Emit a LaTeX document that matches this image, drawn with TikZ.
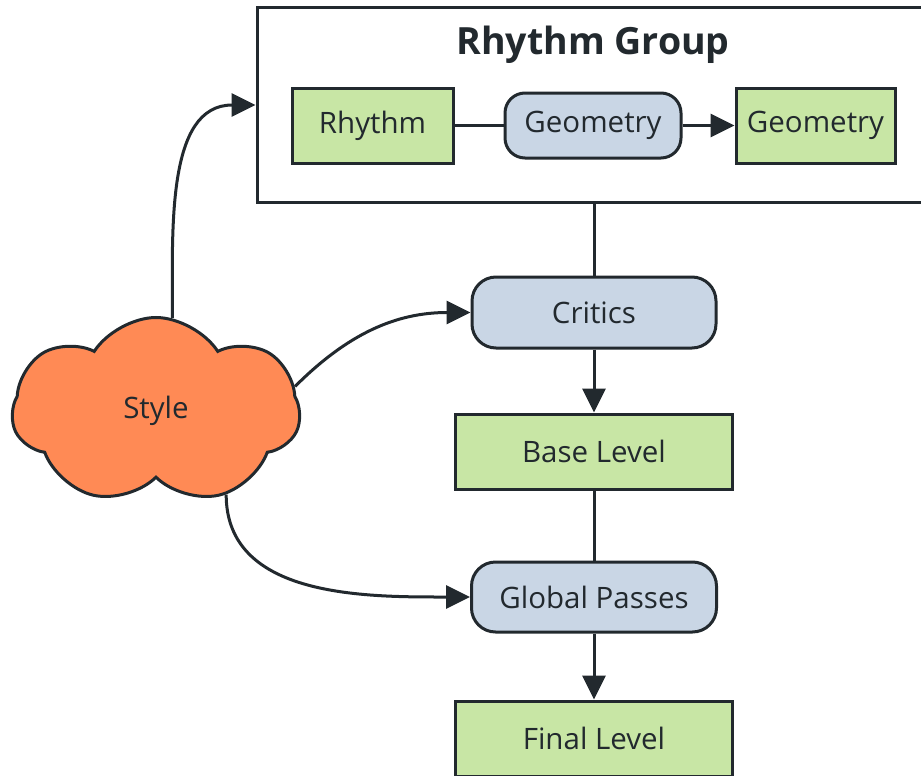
\documentclass[tikz,border=0pt]{standalone}
\usepackage{fontspec}
\setmainfont{Open Sans}
\usepackage{tikz}
\usetikzlibrary{shapes,shapes.symbols,arrows.meta,positioning}

\definecolor{inkdark}{HTML}{22292E}
\definecolor{levelgreen}{HTML}{C8E6A5}
\definecolor{passblue}{HTML}{C9D6E5}
\definecolor{styleorange}{HTML}{FF8A55}

\begin{document}
\begin{tikzpicture}[x=1pt, y=1pt, auto, font=\fontsize{29.5}{34}\selectfont, text=inkdark]
    % Define styles
    \tikzstyle{level} = [rectangle, draw=inkdark, fill=levelgreen, line width=3pt, minimum width=277pt, minimum height=75pt, inner sep=0pt]
    \tikzstyle{pass} = [rectangle, draw=inkdark, fill=passblue, line width=3pt, rounded corners=24pt, minimum width=245pt, minimum height=70pt, inner sep=0pt]
    \tikzstyle{group} = [rectangle, draw=inkdark, fill=white, line width=3pt, minimum width=668pt, minimum height=194pt]
    \tikzstyle{stylecloud} = [cloud, cloud puffs=7, cloud puff arc=115, cloud ignores aspect, draw=inkdark, fill=styleorange, line width=3pt, minimum width=288pt, minimum height=187pt, inner sep=0pt]
    \tikzstyle{link} = [draw=inkdark, line width=3pt]
    \tikzstyle{flow} = [link, -{Triangle[length=24pt, width=23pt]}]

    \useasboundingbox (0,0) rectangle (921,-776);

    % Rhythm group
    \node [group] (rgroup) at (591,-105) {};
    \node [font=\fontsize{37.5}{42}\selectfont\bfseries] (gtitle) at (593,-45) {Rhythm Group};
    \node [level, minimum width=161pt] (rhythm) at (372.5,-125.5) {Rhythm};
    \node [pass, right of=rhythm, node distance=220.5pt, minimum width=176pt, minimum height=65pt, rounded corners=20pt] (geoa) {Geometry};
    \node [level, right of=geoa, node distance=222.5pt, minimum width=159pt] (geob) {Geometry};

    % Main column
    \node [pass, minimum width=244pt, minimum height=71pt] (critics) at (594,-312.5) {Critics};
    \node [level, below of=critics, node distance=139pt] (base) {Base Level};
    \node [pass, below of=base, node distance=145.5pt] (global) {Global Passes};
    \node [level, below of=global, node distance=141.5pt] (final) {Final Level};

    % Style cloud
    \node [stylecloud] (style) at (156,-411) {Style};

    % Arrows
    \draw [link] (rhythm) -- (geoa);
    \draw [flow] (geoa) -- (geob);
    \draw [link] (critics.north |- rgroup.south) -- (critics.north);
    \draw [flow] (critics) -- (base);
    \draw [link] (base) -- (global);
    \draw [flow] (global) -- (final);
    \draw [flow] (style.80) to[out=90, in=180] (rgroup.west);
    \draw [flow] (style.10) to[out=45, in=180] (critics.west);
    \draw [flow] (style.310) to[out=-90, in=180] (global.west);
\end{tikzpicture}
\end{document}
